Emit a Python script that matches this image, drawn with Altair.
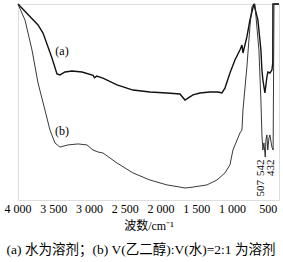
import altair as alt
import pandas as pd

# curve (a): water as solvent
wn_a = [4000, 3720, 3650, 3525, 3455, 3413, 3343, 3245, 3105, 2950, 2930, 2900, 2812, 2616, 2392, 2155,
        1917, 1735, 1665, 1623, 1553, 1456, 1316, 1204, 1148, 1106, 1036, 966, 896, 868, 854, 799,
        757, 701, 645, 603, 589, 575, 547, 519, 505, 477, 449, 437, 435, 350]
t_a = [100, 89.3, 85.2, 72.4, 64.3, 63.8, 65.3, 65.8, 65.3, 63.6, 62.4, 63.2, 62.2, 58.7, 56.1, 55.1,
       54.6, 54.1, 51.0, 52.0, 53.6, 54.6, 55.1, 55.1, 54.6, 57.1, 64.8, 71.4, 76.5, 79.1, 75.0, 83.2,
       91.8, 100, 91.8, 76.5, 66.3, 61.2, 54.6, 62.8, 65.3, 64.8, 66.3, 70.0, 100, 100]

# curve (b): ethylene glycol : water = 2:1
wn_b = [4000, 3902, 3804, 3720, 3623, 3553, 3483, 3413, 3301, 3161, 3035, 2951, 2882, 2812, 2616, 2392,
        2155, 1917, 1735, 1665, 1553, 1358, 1218, 1106, 1036, 994, 896, 868, 854, 799, 757, 729,
        701, 687, 631, 603, 589, 575, 561, 542, 533, 519, 507, 491, 477, 449, 432, 420, 350]
t_b = [100, 91.8, 76.5, 59.7, 45.9, 35.7, 29.1, 27.0, 28.1, 28.6, 28.1, 25.5, 24.5, 24.0, 18.9, 13.8,
       10.2, 7.7, 6.6, 6.1, 6.6, 7.7, 10.2, 13.8, 17.9, 25.5, 34.2, 35.7, 45.9, 67.9, 88.3, 98.5,
       100, 100, 76.5, 51.0, 33.2, 25.5, 29.1, 21.9, 30.6, 33.2, 25.5, 31.6, 33.2, 27.0, 25.5, 100, 100]

x_ticks = [4000, 3500, 3000, 2500, 2000, 1500, 1000, 500]
x_tick_labels = ["4 000", "3 500", "3 000", "2 500", "2 000", "1 500", "1 000", "500"]

curve_labels = ["(a)", "(b)"]
curve_label_x = [3385, 3385]
curve_label_y = [76, 35]

peak_labels = ["542", "507", "432"]
peak_label_x = [600, 600, 460]
peak_label_y = [16.5, 6.0, 16.5]

x_title = "波数/cm⁻¹"
caption = "(a)  水为溶剂；(b) V(乙二醇):V(水)=2:1 为溶剂"

SERIF = "Liberation Serif"
CJK = "Liberation Serif, Noto Sans CJK SC"

df = pd.concat([
    pd.DataFrame({"wn": wn_a, "t": t_a, "s": "a", "i": range(len(wn_a))}),
    pd.DataFrame({"wn": wn_b, "t": t_b, "s": "b", "i": range(len(wn_b))}),
])

xscale = alt.Scale(domain=[4000, 350], nice=False, zero=False)
yscale = alt.Scale(domain=[0, 100], nice=False, zero=False)

base = alt.Chart(df)
line_a = base.transform_filter("datum.s == 'a'").mark_line(color="#111", strokeWidth=1.4).encode(
    x=alt.X("wn:Q", scale=xscale, axis=None),
    y=alt.Y("t:Q", scale=yscale, axis=None),
    order="i:Q",
)
line_b = base.transform_filter("datum.s == 'b'").mark_line(color="#222", strokeWidth=0.9).encode(
    x=alt.X("wn:Q", scale=xscale),
    y=alt.Y("t:Q", scale=yscale),
    order="i:Q",
)

# x tick labels drawn through the x scale
tick_df = pd.DataFrame({"x": x_ticks, "txt": x_tick_labels})
ticklabs = alt.Chart(tick_df).mark_text(
    font=SERIF, fontSize=12, color="#000", baseline="top", dy=4
).encode(
    x=alt.X("x:Q", scale=xscale), y=alt.value(196), text="txt:N"
)

xtitle = alt.Chart(pd.DataFrame({"txt": [x_title]})).mark_text(
    font=CJK, fontSize=12, color="#000", baseline="middle"
).encode(x=alt.value(131), y=alt.value(222), text="txt:N")

cap = alt.Chart(pd.DataFrame({"txt": [caption]})).mark_text(
    font=CJK, fontSize=13.5, color="#000", baseline="middle"
).encode(x=alt.value(123), y=alt.value(246), text="txt:N")

lab_df = pd.DataFrame({"x": curve_label_x, "y": curve_label_y, "txt": curve_labels})
labs = alt.Chart(lab_df).mark_text(font=SERIF, fontSize=12, color="#000").encode(
    x=alt.X("x:Q", scale=xscale), y=alt.Y("y:Q", scale=yscale), text="txt:N"
)

pk_df = pd.DataFrame({"x": peak_label_x, "y": peak_label_y, "txt": peak_labels})
pks = alt.Chart(pk_df).mark_text(font=SERIF, fontSize=11, color="#000", angle=270).encode(
    x=alt.X("x:Q", scale=xscale), y=alt.Y("y:Q", scale=yscale), text="txt:N"
)

chart = alt.layer(line_a, line_b, labs, pks, ticklabs, xtitle, cap).properties(
    width=261, height=196,
    autosize=alt.AutoSizeParams(type="none"),
    padding={"left": 18, "top": 4, "right": 4, "bottom": 62},
).configure_view(stroke="#222", strokeWidth=1).configure(background="white")

chart.save("out.html", embed_options={"renderer": "svg", "actions": False})
